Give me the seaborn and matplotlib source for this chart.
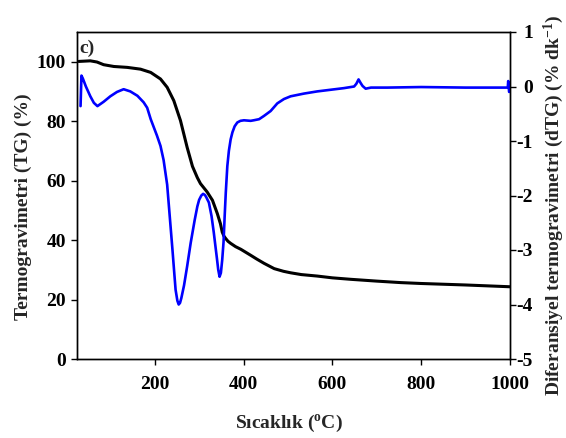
import matplotlib
matplotlib.use("Agg")
import matplotlib.pyplot as plt
import seaborn as sns
import pandas as pd

# TG curve (black, left axis)
tg_temp = [29, 55, 70, 85, 108, 138, 168, 191, 213, 228, 243, 258, 273, 285, 296, 303,
           318, 330, 341, 348, 352, 356, 360, 365, 371, 382, 394, 405, 416, 430, 446,
           469, 490, 506, 530, 566, 600, 642, 700, 754, 800, 900, 1000]
tg_val = [100.1, 100.3, 99.9, 99.0, 98.4, 98.1, 97.5, 96.4, 94.2, 91.4, 86.9, 80.2, 71.2,
          64.8, 61.0, 59.0, 56.2, 53.4, 48.9, 45.5, 42.7, 41.3, 40.5, 39.6, 38.9, 37.8,
          36.9, 35.9, 34.9, 33.6, 32.2, 30.4, 29.5, 29.0, 28.4, 27.9, 27.3, 26.8, 26.2,
          25.7, 25.4, 24.9, 24.3]

# dTG curve (blue, right axis)
dtg_temp = [33, 35, 38, 45, 55, 63, 71, 85, 100, 115, 130, 145, 161, 175, 183, 191, 205,
            213, 220, 228, 234, 240, 244, 247, 251, 254, 257, 260, 266, 273, 281, 290,
            296, 300, 305, 309, 313, 316, 322, 328, 333, 337, 340, 343, 346, 349, 352,
            355, 357.5, 360, 363.5, 367, 371, 375, 380, 386, 393, 401, 416, 423, 435,
            446, 461, 476, 491, 506, 536, 566, 596, 626, 649, 654, 659, 664, 668, 675,
            687, 724, 800, 900, 995, 996, 998]
dtg_val = [-0.36, 0.20, 0.15, 0.0, -0.18, -0.30, -0.36, -0.28, -0.18, -0.10, -0.05, -0.09,
           -0.17, -0.29, -0.39, -0.60, -0.90, -1.09, -1.35, -1.80, -2.40, -3.00, -3.42,
           -3.73, -3.93, -4.00, -3.97, -3.88, -3.65, -3.30, -2.87, -2.45, -2.20, -2.08,
           -2.00, -1.97, -1.99, -2.03, -2.13, -2.38, -2.68, -2.95, -3.15, -3.36, -3.49,
           -3.42, -3.18, -2.85, -2.38, -1.95, -1.46, -1.18, -0.97, -0.84, -0.73, -0.66,
           -0.63, -0.62, -0.63, -0.62, -0.60, -0.54, -0.45, -0.31, -0.23, -0.18, -0.13,
           -0.09, -0.06, -0.03, 0.0, 0.05, 0.13, 0.06, 0.01, -0.04, -0.02, -0.02, -0.01,
           -0.02, -0.02, 0.10, -0.10]

x_ticks = [200, 400, 600, 800, 1000]
left_ticks = [0, 20, 40, 60, 80, 100]
right_ticks = [-5, -4, -3, -2, -1, 0, 1]

sns.set_style("ticks")
plt.rcParams['font.family'] = ['Liberation Serif', 'DejaVu Serif']
plt.rcParams['font.weight'] = 'bold'
plt.rcParams['axes.labelweight'] = 'bold'
plt.rcParams['axes.unicode_minus'] = False
plt.rcParams['mathtext.fontset'] = 'custom'
plt.rcParams['mathtext.rm'] = 'Liberation Serif:bold'
plt.rcParams['mathtext.bf'] = 'Liberation Serif:bold'
plt.rcParams['mathtext.it'] = 'Liberation Serif:bold'

tg_df = pd.DataFrame({"T": tg_temp, "TG": tg_val})
dtg_df = pd.DataFrame({"T": dtg_temp, "dTG": dtg_val})

fig = plt.figure(figsize=(5.66, 4.38), dpi=100)
ax = fig.add_axes([77/566, 1-359/438, (510-77)/566, (359-32)/438])
ax2 = ax.twinx()

sns.lineplot(data=tg_df, x="T", y="TG", ax=ax, color="black", linewidth=2.2, sort=False)
sns.lineplot(data=dtg_df, x="T", y="dTG", ax=ax2, color="#0000ff", linewidth=1.9, sort=False)

ax.set_xlim(25, 1000)
ax.set_ylim(0, 110)
ax2.set_ylim(-5, 1)
ax.set_xticks(x_ticks)
ax.set_yticks(left_ticks)
ax2.set_yticks(right_ticks)

for a in (ax, ax2):
    for s in a.spines.values():
        s.set_linewidth(1.0)
        s.set_color("black")
    a.tick_params(direction="out", length=4, width=1, labelsize=14, colors="black")
ax.tick_params(axis="x", pad=8)
ax.tick_params(axis="y", pad=4)
ax2.tick_params(axis="y", pad=12.5)
for lbl in ax2.get_yticklabels():
    lbl.set_horizontalalignment("right")

ax.set_xlabel("Sıcaklık ($^{o}$C)", fontsize=14, fontweight="bold")
ax.set_ylabel("Termogravimetri (TG) (%)", fontsize=14, fontweight="bold")
ax2.set_ylabel("Diferansiyel termogravimetri (dTG) (% dk$^{-1}$)", fontsize=14,
               fontweight="bold", rotation=90)
ax.yaxis.set_label_coords(-0.104, 0.465)
ax2.yaxis.set_label_coords(1.074, 0.47)
ax.xaxis.set_label_coords(0.49, -0.165)

ax.text(0.005, 0.978, "c)", transform=ax.transAxes, fontsize=14, fontweight="bold",
        va="top", ha="left")

fig.savefig("out.png", dpi=100)
